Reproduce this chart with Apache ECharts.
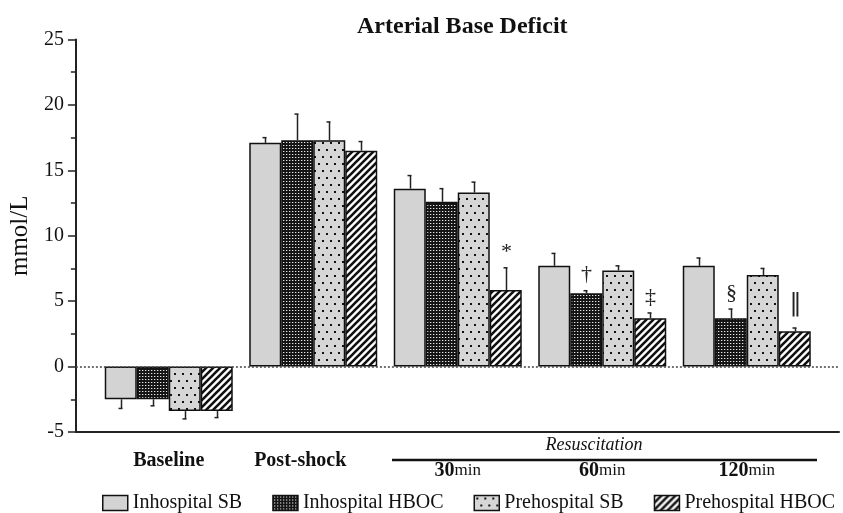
<!DOCTYPE html>
<html><head><meta charset="utf-8">
<script src="https://cdn.jsdelivr.net/npm/echarts@6/dist/echarts.min.js"></script>
<style>html,body{margin:0;padding:0;background:#fff}#c{width:843px;height:513px}</style>
</head><body><div id="c"></div>
<script>
// ---- data ----
const categories = ['Baseline', 'Post-shock', '30', '60', '120'];
const seriesNames = ['Inhospital SB', 'Inhospital HBOC', 'Prehospital SB', 'Prehospital HBOC'];
const inhospitalSB    = [-2.5, 17.1, 13.6, 7.7, 7.7];
const inhospitalHBOC  = [-2.5, 17.3, 12.6, 5.6, 3.7];
const prehospitalSB   = [-3.4, 17.3, 13.3, 7.35, 7.0];
const prehospitalHBOC = [-3.4, 16.5, 5.85, 3.7, 2.7];
const errInhospitalSB    = [0.7, 0.4, 1.0, 0.95, 0.6];
const errInhospitalHBOC  = [0.5, 2.0, 1.0, 0.2, 0.7];
const errPrehospitalSB   = [0.6, 1.4, 0.8, 0.35, 0.5];
const errPrehospitalHBOC = [0.5, 0.7, 1.7, 0.4, 0.25];
const sigInhospitalSB    = ['', '', '', '', ''];
const sigInhospitalHBOC  = ['', '', '', '\u2020', '\u00A7'];
const sigPrehospitalSB   = ['', '', '', '', ''];
const sigPrehospitalHBOC = ['', '', '*', '\u2021', '\u2016'];
const yTicks = [-5, 0, 5, 10, 15, 20, 25];

const values = [inhospitalSB, inhospitalHBOC, prehospitalSB, prehospitalHBOC];
const errors = [errInhospitalSB, errInhospitalHBOC, errPrehospitalSB, errPrehospitalHBOC];
const sigs = [sigInhospitalSB, sigInhospitalHBOC, sigPrehospitalSB, sigPrehospitalHBOC];

// ---- styles ----
const FONT = '"Liberation Serif", "Times New Roman", serif';
const INK = '#111';
const BAR_W = 32;

function makeTile(w, h, draw) {
  const c = document.createElement('canvas');
  c.width = w; c.height = h;
  draw(c.getContext('2d'), w, h);
  return { image: c, repeat: 'repeat' };
}
const fills = [
  '#d3d3d3',
  makeTile(3, 3, g => { g.fillStyle = '#151515'; g.fillRect(0, 0, 3, 3); g.fillStyle = '#e8e8e8'; g.fillRect(1, 1, 1, 1); g.fillStyle = '#555'; g.fillRect(2, 1, 1, 1); }),
  makeTile(8, 14, g => { g.fillStyle = '#d6d6d6'; g.fillRect(0, 0, 8, 14); g.fillStyle = '#111'; g.fillRect(2, 2, 2, 2); g.fillRect(6, 9, 2, 2); }),
  makeTile(7, 7, g => {
    g.fillStyle = '#fff'; g.fillRect(0, 0, 7, 7);
    g.strokeStyle = '#111'; g.lineWidth = 2.6; g.beginPath();
    g.moveTo(-1, 8); g.lineTo(8, -1);
    g.moveTo(-1, 1); g.lineTo(1, -1);
    g.moveTo(6, 8); g.lineTo(8, 6);
    g.stroke();
  })
];

const errData = [];
for (let s = 0; s < 4; s++) for (let c = 0; c < categories.length; c++) errData.push([c, s, values[s][c], errors[s][c]]);

const chart = echarts.init(document.getElementById('c'), null, { renderer: 'canvas' });
const option = {
  animation: false,
  backgroundColor: '#fff',
  title: { text: 'Arterial Base Deficit', left: 352, top: 10,
    textStyle: { fontFamily: FONT, fontWeight: 'bold', fontSize: 24, color: INK } },
  legend: {
    data: seriesNames, left: 97, top: 488, icon: 'rect', itemWidth: 25, itemHeight: 15, itemGap: 30,
    textStyle: { fontFamily: FONT, fontSize: 20, color: INK },
    itemStyle: { borderColor: INK, borderWidth: 1.5 }
  },
  grid: [
    { left: 75, right: 4, top: 39.5, bottom: 81 },
    { left: 96.5, width: 722.5, top: 39.5, bottom: 81 }
  ],
  xAxis: [
    { gridIndex: 0, type: 'value', min: 0, max: 1,
      axisLine: { show: true, onZero: false, lineStyle: { color: '#222', width: 2 } },
      axisTick: { show: false }, axisLabel: { show: false }, splitLine: { show: false } },
    { gridIndex: 1, type: 'category', data: categories,
      axisLine: { show: false }, axisTick: { show: false },
      axisLabel: {
        margin: 19, interval: 0,
        formatter: (v, i) => i === 0 ? `{main|${v}}` : (i === 1 ? `{ps|${v}}` : `{num|${v}}{unit|min}`),
        rich: {
          main: { fontFamily: FONT, fontWeight: 'bold', fontSize: 20, color: INK },
          ps: { fontFamily: FONT, fontWeight: 'bold', fontSize: 20, color: INK, padding: [0, 26, 0, 0] },
          num: { fontFamily: FONT, fontWeight: 'bold', fontSize: 20, color: INK, padding: [10, 0, 0, 0] },
          unit: { fontFamily: FONT, fontSize: 17, color: INK, padding: [10, 0, 0, 0] }
        }
      } }
  ],
  yAxis: [
    { gridIndex: 0, type: 'value', min: yTicks[0], max: yTicks[yTicks.length - 1], interval: yTicks[1] - yTicks[0],
      name: 'mmol/L', nameLocation: 'middle', nameGap: 33,
      nameTextStyle: { fontFamily: FONT, fontSize: 25, color: INK },
      axisLine: { show: true, onZero: false, lineStyle: { color: '#222', width: 2 } },
      axisTick: { show: true, length: 8, lineStyle: { color: '#222', width: 1.5 } },
      minorTick: { show: true, splitNumber: 2, length: 5, lineStyle: { color: '#222', width: 1.5 } },
      axisLabel: { margin: 12, fontFamily: FONT, fontSize: 20, color: INK },
      splitLine: { show: false } },
    { gridIndex: 1, type: 'value', min: yTicks[0], max: yTicks[yTicks.length - 1], show: false, splitLine: { show: false } }
  ],
  series: [
    { type: 'line', xAxisIndex: 0, yAxisIndex: 0, data: [], z: 1, silent: true,
      markLine: { silent: true, symbol: 'none', label: { show: false },
        lineStyle: { type: [2, 2], color: '#444', width: 1.5 }, data: [{ yAxis: 0 }] } },
    ...seriesNames.map((name, s) => ({
      name, type: 'bar', xAxisIndex: 1, yAxisIndex: 1, data: values[s],
      barWidth: BAR_W, barGap: '0%', z: 3,
      itemStyle: { color: fills[s], borderColor: INK, borderWidth: 1.5 }
    })),
    { type: 'custom', xAxisIndex: 1, yAxisIndex: 1, data: errData, z: 4, silent: true,
      encode: { x: 0, y: 2 },
      renderItem: (params, api) => {
        const c = api.value(0), s = api.value(1), v = api.value(2), e = api.value(3);
        const p0 = api.coord([c, v]);
        const x = Math.round(p0[0] + (s - 1.5) * BAR_W) + 0.5;
        const end = v >= 0 ? v + e : v - e;
        const y1 = api.coord([c, end])[1];
        const children = [
          { type: 'line', shape: { x1: x, y1: p0[1], x2: x, y2: y1 }, style: { stroke: '#222', lineWidth: 1.5 } },
          { type: 'line', shape: { x1: x - 3, y1: y1, x2: x + 1, y2: y1 }, style: { stroke: '#222', lineWidth: 1.5 } }
        ];
        const t = sigs[s][c];
        const isBar = t === '\u2016';
        if (t) children.push({ type: 'text', style: { text: t, x: x, y: y1 - (isBar ? 24 : 16), align: 'center', verticalAlign: 'middle',
          font: isBar ? '24px "DejaVu Serif", serif' : '22px ' + FONT, fill: '#222' } });
        return { type: 'group', children };
      } }
  ],
  graphic: [
    { type: 'text', style: { text: 'Resuscitation', x: 594, y: 445, align: 'center', verticalAlign: 'middle',
        font: 'italic 18px ' + FONT, fill: INK } },
    { type: 'line', shape: { x1: 392, y1: 460, x2: 817, y2: 460 }, style: { stroke: INK, lineWidth: 2.5 } }
  ]
};
chart.setOption(option);
</script>
</body></html>
